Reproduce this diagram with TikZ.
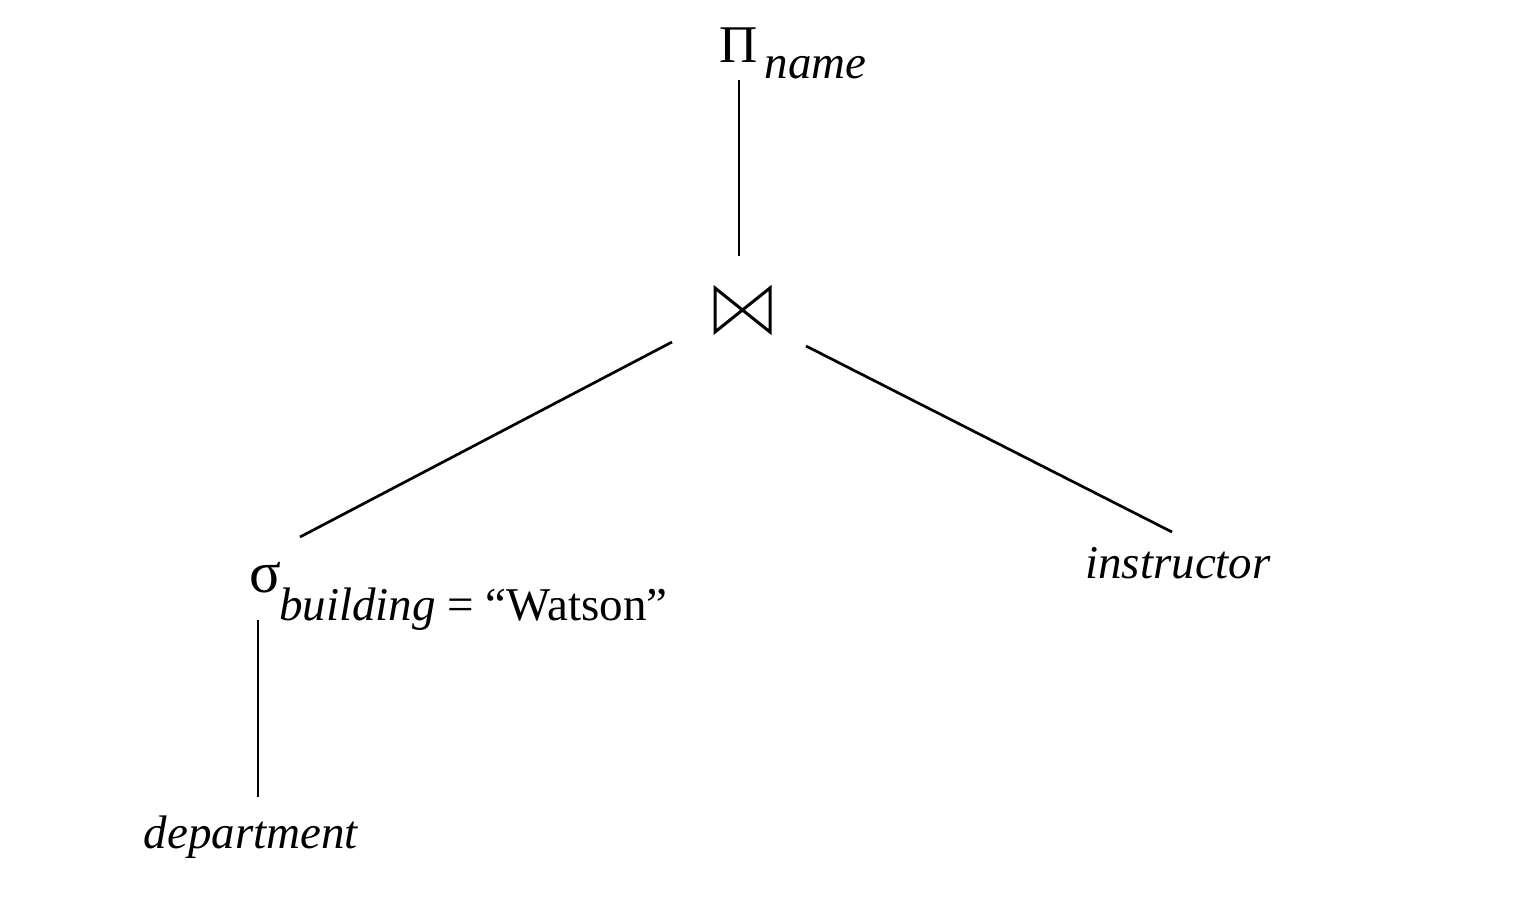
\documentclass[tikz,border=0pt]{standalone}
\usepackage{fontspec}
\setmainfont{Liberation Serif}
\begin{document}
\begin{tikzpicture}[x=0.5pt,y=-0.5pt,
  lbl/.style={inner sep=0pt,anchor=base,font=\fontsize{23.5}{28}\selectfont},
  conn/.style={line width=1.35pt},
  bow/.style={line width=1.5pt,line join=miter}]
\useasboundingbox (0,0) rectangle (1522,906);
% nodes
\node[lbl,anchor=base west] (pi) at (719,62) {{\fontsize{26.5}{30}\selectfont Π}\hspace{3.5pt}\raisebox{-8pt}{\itshape name}};
\coordinate (join) at (742,310);
\draw[bow] (715,288) -- (770,332) -- (770,288) -- (715,332) -- cycle;
\node[lbl,anchor=base west] (sel) at (249,592) {{\fontsize{29.5}{34}\selectfont σ}\kern-1pt\raisebox{-14pt}{\itshape building\/\upshape\ = “Watson”}};
\node[lbl] (instr) at (1178,578) {\itshape instructor};
\node[lbl] (dept) at (251,848) {\itshape department};
% connector end points
\coordinate (pi-s) at (739,80);
\coordinate (join-n) at (739,256);
\coordinate (join-sw) at (672,342);
\coordinate (join-se) at (806,346);
\coordinate (sel-n) at (300,537);
\coordinate (sel-s) at (258,620);
\coordinate (instr-n) at (1172,532);
\coordinate (dept-n) at (258,797);
% connectors
\draw[conn] (pi-s) -- (join-n);
\draw[conn] (join-sw) -- (sel-n);
\draw[conn] (join-se) -- (instr-n);
\draw[conn] (sel-s) -- (dept-n);
\end{tikzpicture}
\end{document}
